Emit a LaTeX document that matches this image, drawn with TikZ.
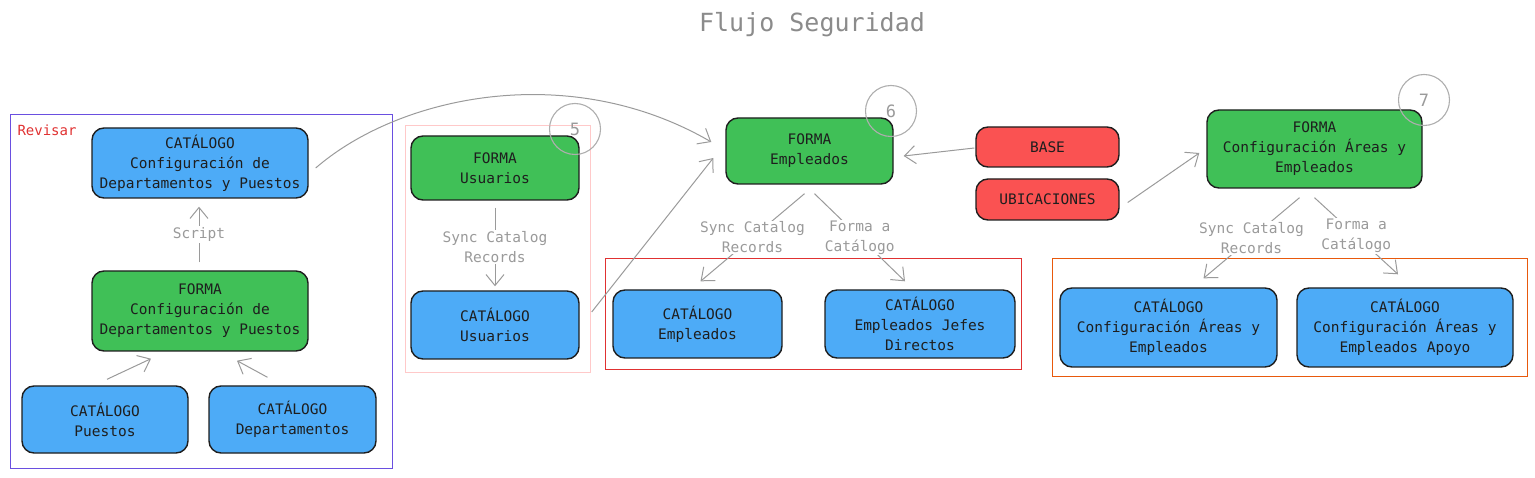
\documentclass[tikz,border=0pt]{standalone}
\usepackage{fontspec}
\setmonofont{DejaVu Sans Mono}
\usetikzlibrary{arrows.meta,calc}
\definecolor{azul}{HTML}{4DABF7}
\definecolor{verde}{HTML}{40C057}
\definecolor{rojo}{HTML}{FA5252}
\definecolor{tinta}{HTML}{1E1E1E}
\definecolor{gris}{HTML}{9A9A9A}
\definecolor{morado}{HTML}{6A4FE0}
\definecolor{rosa}{HTML}{FFC9C9}
\definecolor{marco}{HTML}{E03131}
\definecolor{naranja}{HTML}{E8590C}
\tikzset{
  caja/.style={draw=tinta, line width=1.4pt, rounded corners=12pt, align=center,
    inner sep=0pt, text=tinta, font=\ttfamily\fontsize{14.5}{20}\selectfont},
  catalogo/.style={caja, fill=azul},
  forma/.style={caja, fill=verde},
  fuente/.style={caja, fill=rojo},
  flecha/.style={draw=gris, line width=1pt, -{Straight Barb[length=11pt,width=18pt]}},
  etiqueta/.style={fill=white, inner sep=1pt, align=center, text=gris,
    font=\ttfamily\fontsize{14.5}{20}\selectfont},
  paso/.style={circle, draw=gris!80, line width=1.1pt, minimum size=51pt, inner sep=0pt,
    text=gris, font=\ttfamily\fontsize{17}{20}\selectfont}
}
\begin{document}
\begin{tikzpicture}[x=1pt,y=-1pt]
  \useasboundingbox (0,0) rectangle (1535,478);
  \node[text=gris!90!black, font=\ttfamily\fontsize{25}{30}\selectfont] (titulo) at (812,25) {Flujo Seguridad};

  % grupo revisar
  \draw[morado, line width=1pt] (10,115) rectangle (392,468);
  \node[anchor=west, text=marco, font=\ttfamily\fontsize{14}{18}\selectfont] (revisar) at (14,130) {Revisar};
  \node[catalogo, minimum width=216pt, minimum height=70pt] (catConf) at (200,163) {CATÁLOGO\\Configuración de\\Departamentos y Puestos};
  \node[forma, minimum width=216pt, minimum height=80pt] (formConf) at (200,311) {FORMA\\Configuración de\\Departamentos y Puestos};
  \node[catalogo, minimum width=166pt, minimum height=67pt] (catPuestos) at (105,419.5) {CATÁLOGO\\Puestos};
  \node[catalogo, minimum width=167pt, minimum height=67pt] (catDeptos) at (292.5,419.5) {CATÁLOGO\\Departamentos};
  \draw[flecha] ($(catPuestos.north)+(2,-6)$) -- ($(formConf.south)+(-49,7)$);
  \draw[flecha] ($(catDeptos.north)+(-25,-8)$) -- ($(formConf.south)+(37,9)$);
  \draw[flecha] ($(formConf.north)+(-1,-8)$) -- node[etiqueta] {Script} ($(catConf.south)+(-1,8)$);

  % usuarios
  \draw[rosa, line width=1pt] (405,126) rectangle (590,373);
  \node[forma, minimum width=168pt, minimum height=64pt] (formUsuarios) at (495,168) {FORMA\\Usuarios};
  \node[catalogo, minimum width=168pt, minimum height=68pt] (catUsuarios) at (495,325) {CATÁLOGO\\Usuarios};
  \node[paso] (cinco) at (575,129) {5};
  \draw[flecha] ($(formUsuarios.south)+(0,7)$) -- node[etiqueta] {Sync Catalog\\Records} ($(catUsuarios.north)+(0,-4)$);

  % empleados
  \draw[marco, line width=1pt] (605,259) rectangle (1021,370);
  \node[forma, minimum width=167pt, minimum height=66pt] (formEmpleados) at (809.5,151) {FORMA\\Empleados};
  \node[paso] (seis) at (891,111) {6};
  \node[catalogo, minimum width=169pt, minimum height=68pt] (catEmpleados) at (697.5,324) {CATÁLOGO\\Empleados};
  \node[catalogo, minimum width=190pt, minimum height=68pt] (catJefes) at (920,324) {CATÁLOGO\\Empleados Jefes\\Directos};
  \draw[flecha] ($(formEmpleados.south)+(-5,9)$) -- node[etiqueta] {Sync Catalog\\Records} ($(catEmpleados.north)+(3,-8)$);
  \draw[flecha] ($(formEmpleados.south)+(5,9)$) -- node[etiqueta] {Forma a\\Catálogo} ($(catJefes.north)+(-15,-8)$);

  \draw[flecha] ($(catConf.east)+(7,5)$) .. controls (400,95) and (570,60) .. ($(formEmpleados.west)+(-14,-9)$);
  \draw[flecha] ($(catUsuarios.east)+(12,-13)$) -- ($(formEmpleados.west)+(-12,7)$);

  % fuentes
  \node[fuente, minimum width=143pt, minimum height=40pt] (base) at (1047.5,147) {BASE};
  \node[fuente, minimum width=143pt, minimum height=41pt] (ubicaciones) at (1047.5,199.5) {UBICACIONES};
  \draw[flecha] ($(base.west)+(-1,1)$) -- ($(formEmpleados.east)+(10,5)$);

  % areas
  \draw[naranja, line width=1pt] (1052,259) rectangle (1527,377);
  \node[forma, minimum width=215pt, minimum height=78pt] (formAreas) at (1314.5,149) {FORMA\\Configuración Áreas y\\Empleados};
  \node[paso] (siete) at (1424,100) {7};
  \node[catalogo, minimum width=217pt, minimum height=79pt] (catAreas) at (1168.5,327.5) {CATÁLOGO\\Configuración Áreas y\\Empleados};
  \node[catalogo, minimum width=216pt, minimum height=79pt] (catApoyo) at (1405,327.5) {CATÁLOGO\\Configuración Áreas y\\Empleados Apoyo};
  \draw[flecha] ($(ubicaciones.east)+(8,3)$) -- ($(formAreas.west)+(-7,4)$);
  \draw[flecha] ($(formAreas.south)+(-15,9)$) -- node[etiqueta] {Sync Catalog\\Records} ($(catAreas.north)+(35,-9)$);
  \draw[flecha] ($(formAreas.south)+(0,9)$) -- node[etiqueta] {Forma a\\Catálogo} ($(catApoyo.north)+(-7,-13)$);
\end{tikzpicture}
\end{document}
